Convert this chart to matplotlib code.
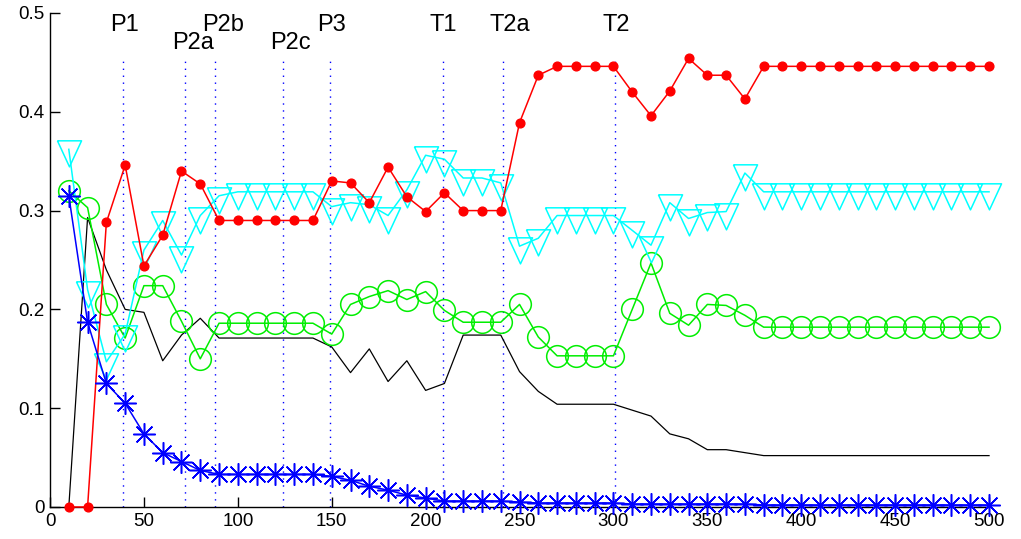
import numpy as np
import matplotlib
matplotlib.use("Agg")
import matplotlib.pyplot as plt

plt.rcParams['font.family'] = ['Liberation Sans', 'DejaVu Sans']

# iterations 10..500 in steps of 10
x = np.arange(10, 510, 10)

red = [0, 0, 0.288, 0.346, 0.244, 0.275, 0.340, 0.327,
       0.290, 0.290, 0.290, 0.290, 0.290, 0.290,
       0.330, 0.328, 0.308, 0.344, 0.314, 0.299, 0.318,
       0.300, 0.300, 0.300, 0.389, 0.437,
       0.446, 0.446, 0.446, 0.446,
       0.420, 0.396, 0.421, 0.454, 0.437, 0.437, 0.413] + [0.446] * 13

green = [0.320, 0.303, 0.205, 0.171, 0.224, 0.224, 0.188, 0.150,
         0.186, 0.186, 0.186, 0.186, 0.186, 0.186,
         0.175, 0.205, 0.213, 0.219, 0.210, 0.218, 0.199,
         0.187, 0.187, 0.187, 0.205, 0.172,
         0.153, 0.153, 0.153, 0.153,
         0.200, 0.247, 0.196, 0.184, 0.205, 0.204, 0.194] + [0.182] * 13

cyan = [0.362, 0.220, 0.147, 0.175, 0.260, 0.290, 0.255, 0.295,
        0.315, 0.319, 0.319, 0.319, 0.319, 0.319,
        0.304, 0.308, 0.306, 0.295, 0.321, 0.356, 0.352,
        0.333, 0.333, 0.328, 0.264, 0.272,
        0.295, 0.295, 0.295, 0.295,
        0.280, 0.265, 0.308, 0.292, 0.298, 0.299, 0.338] + [0.319] * 13

blue = [0.315, 0.187, 0.125, 0.105, 0.074, 0.055, 0.046, 0.037,
        0.033, 0.033, 0.033, 0.033, 0.033, 0.033,
        0.031, 0.027, 0.021, 0.017, 0.012, 0.009, 0.006,
        0.006, 0.006, 0.006, 0.005, 0.004,
        0.004, 0.004, 0.004, 0.004,
        0.003, 0.003, 0.003, 0.003, 0.003, 0.003, 0.003] + [0.002] * 13

black = [0, 0.293, 0.240, 0.200, 0.197, 0.148, 0.174, 0.191,
         0.171, 0.171, 0.171, 0.171, 0.171, 0.171,
         0.162, 0.136, 0.160, 0.127, 0.148, 0.118, 0.125,
         0.174, 0.174, 0.174, 0.137, 0.117,
         0.104, 0.104, 0.104, 0.104,
         0.098, 0.092, 0.074, 0.069, 0.058, 0.058, 0.055] + [0.052] * 13

# phase markers
phase_x = [39, 72, 88, 124, 149, 209, 241, 301]
phase_labels = ['P1', 'P2a', 'P2b', 'P2c', 'P3', 'T1', 'T2a', 'T2']
phase_row = [0, 1, 0, 1, 0, 0, 0, 0]

# downward triangle with centroid at the data point
tri = [(-1, 0.72), (1, 0.72), (0, -1.44), (-1, 0.72)]

fig = plt.figure(figsize=(10.21, 5.39), dpi=100)
ax = fig.add_axes([0.049, 0.0594, 0.9197, 0.9165])

for px in phase_x:
    ax.plot([px, px], [0, 0.451], color='b', linestyle=(0, (1, 4)), lw=1.0, zorder=1)
for px, lab, row in zip(phase_x, phase_labels, phase_row):
    ax.text(px - 7, 0.488 - 0.018 * row, lab, fontsize=17, ha='left', va='center')

ax.plot(x, black, color='k', lw=0.9, zorder=2)
ax.plot(x, green, color='#00ee00', lw=1.1, marker='o', ms=15.6,
        mfc='none', mec='#00ee00', mew=1.1, zorder=3)
ax.plot(x, cyan, color='#00ffff', lw=1.1, marker=tri, ms=25,
        mfc='none', mec='#00ffff', mew=1.1, zorder=4)
ax.plot(x, red, color='#ff0000', lw=1.1, marker='o', ms=6.3,
        mfc='#ff0000', mec='#ff0000', zorder=5)
ax.plot(x, blue, color='#0000ff', lw=1.1, marker=(8, 2, 0), ms=16,
        mec='#0000ff', mew=1.1, zorder=6)

ax.set_xlim(0, 500)
ax.set_ylim(0, 0.5)
ax.set_xticks(np.arange(0, 501, 50))
ax.set_yticks([0, 0.1, 0.2, 0.3, 0.4, 0.5])
ax.set_yticklabels(['0', '0.1', '0.2', '0.3', '0.4', '0.5'])
ax.tick_params(direction='in', length=7, width=1, labelsize=13.5, pad=4)
for s in ['top', 'right']:
    ax.spines[s].set_visible(False)
for s in ['left', 'bottom']:
    ax.spines[s].set_linewidth(1.0)
for line in ax.lines:
    line.set_clip_on(False)

fig.savefig('out.png', dpi=100)
